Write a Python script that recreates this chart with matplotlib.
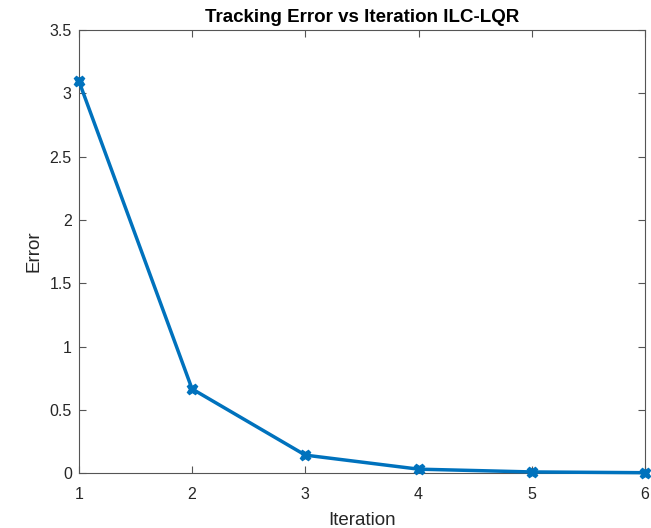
import numpy as np
import matplotlib
matplotlib.use('Agg')
from matplotlib import pyplot as plt

plt.rcParams['font.family'] = ['Liberation Sans', 'DejaVu Sans']

iterations = [1, 2, 3, 4, 5, 6]
errors = [3.1, 0.665, 0.142, 0.031, 0.009, 0.003]

fig = plt.figure(figsize=(6.51, 5.28), dpi=100)
ax = fig.add_axes([0.121, 0.104, 0.870, 0.839])

ax.plot(iterations, errors, color='#0072BD', linewidth=2.5,
        marker='X', markersize=7.5, clip_on=False, zorder=3)

ax.set_xlim(1, 6)
ax.set_ylim(0, 3.5)
ax.set_xticks(iterations)
ax.set_yticks(np.arange(0, 3.51, 0.5))
ax.set_yticklabels(['0', '0.5', '1', '1.5', '2', '2.5', '3', '3.5'])

axis_grey = '#262626'
for s in ax.spines.values():
    s.set_color('#555555')
    s.set_linewidth(0.8)
ax.tick_params(direction='in', top=True, right=True, length=5,
               labelsize=11.5, colors='#555555', labelcolor=axis_grey)
ax.tick_params(axis='x', pad=10)
ax.tick_params(axis='y', pad=5)

ax.set_xlabel('Iteration', fontsize=13.5, color=axis_grey, labelpad=7)
ax.set_ylabel('Error', fontsize=13.5, color=axis_grey, labelpad=5)
ax.set_title('Tracking Error vs Iteration ILC-LQR', fontsize=13.5,
             fontweight='bold', color='black', pad=6)

fig.savefig('out.png', dpi=100)
